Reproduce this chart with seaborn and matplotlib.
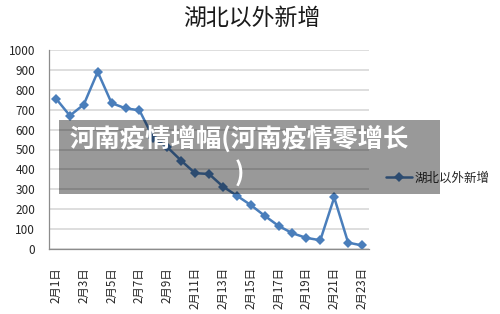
import numpy as np
import pandas as pd
import matplotlib
matplotlib.use("Agg")
import matplotlib.pyplot as plt
import seaborn as sns
from matplotlib.patches import Rectangle

# data
dates = [f"2月{d}日" for d in range(1, 24)]
new_cases = [756, 670, 726, 890, 733, 707, 697, 558, 512, 444, 381, 377,
             314, 268, 221, 167, 116, 79, 56, 44, 259, 32, 18]
series_name = "湖北以外新增"
chart_title = "湖北以外新增"
overlay_text = "河南疫情增幅(河南疫情零增长\n)"

df = pd.DataFrame({"pos": np.arange(len(dates)), "date": dates, "value": new_cases})

sns.set_style("white")
plt.rcParams['font.family'] = ['Noto Sans CJK SC', 'DejaVu Sans']

fig = plt.figure(figsize=(5.0, 3.14), dpi=100)
ax = fig.add_axes([49 / 500, 1 - 249 / 314, 320 / 500, 199 / 314])

line_color = "#4A7EBB"
sns.lineplot(data=df, x="pos", y="value", ax=ax, color=line_color,
             linewidth=1.8, marker="D", markersize=5, markeredgewidth=0,
             label=series_name, legend=False)

ax.set_xlim(-0.5, len(dates) - 0.5)
ax.set_ylim(0, 1000)
ax.set_yticks(np.arange(0, 1001, 100))
ax.yaxis.grid(True, color="#D4D4D4", linewidth=1.1)
ax.set_axisbelow(True)

# labels every other day, tick marks at category boundaries
ax.set_xticks(df["pos"][::2])
ax.set_xticklabels(df["date"][::2], rotation=90, fontsize=8.3)
ax.set_xticks(np.arange(-0.5, len(dates), 2), minor=True)
ax.tick_params(axis="x", which="major", length=0, pad=13)
ax.tick_params(axis="x", which="minor", length=4, color="#8C8C8C", width=0.8)
ax.tick_params(axis="y", length=4, color="#8C8C8C", width=0.8, labelsize=8.5, pad=6)
ax.set_xlabel("")
ax.set_ylabel("")

for side in ["top", "right"]:
    ax.spines[side].set_visible(False)
for side in ["left", "bottom"]:
    ax.spines[side].set_color("#8C8C8C")
    ax.spines[side].set_linewidth(0.9)

fig.text(252 / 500, 1 - 18 / 314, chart_title, ha="center", va="center",
         fontsize=16.5, color="#1a1a1a")

fig.legend(loc="center left", bbox_to_anchor=(386 / 500, 1 - 178 / 314),
           frameon=False, fontsize=9, handlelength=2.1, handletextpad=0.2,
           borderpad=0, borderaxespad=0)

# grey watermark box over the chart
fig.patches.append(Rectangle((59 / 500, 1 - 194 / 314), 381 / 500, 74 / 314,
                             transform=fig.transFigure, facecolor="black",
                             alpha=0.4, edgecolor="none", zorder=10))
fig.text(239 / 500, 1 - 157 / 314, overlay_text, ha="center", va="center",
         multialignment="center", fontsize=18.3, fontweight="bold",
         color="white", linespacing=1.35, zorder=11)

plt.savefig("out.png", dpi=100)
